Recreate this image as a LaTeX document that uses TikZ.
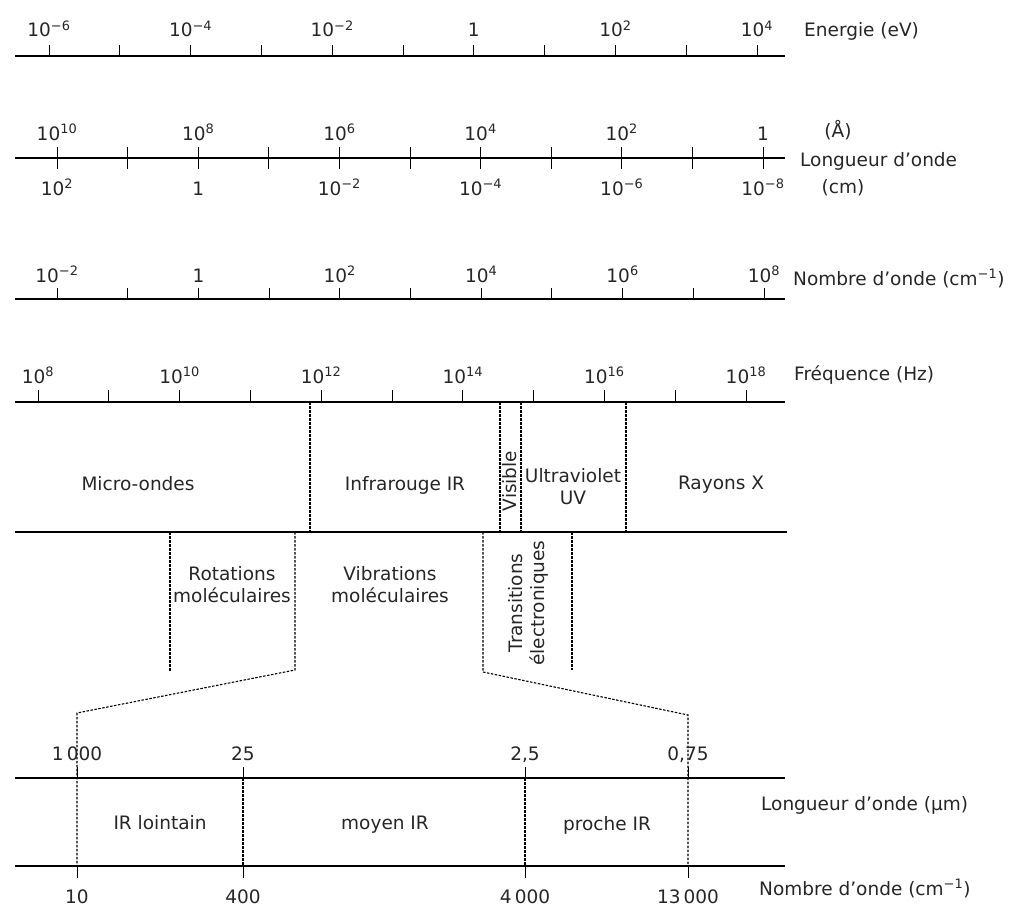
\documentclass[tikz,border=0pt]{standalone}
\usepackage{fontspec}
\setmainfont{DejaVu Sans}
\usetikzlibrary{positioning}
\newcommand{\tenp}[1]{10\textsuperscript{#1}}
\tikzset{
  axis/.style={line width=1.2pt},
  tickmark/.style={line width=1pt},
  sep/.style={line width=1.1pt, dash pattern=on 2.5pt off 1.5pt},
  lbl/.style={font=\fontsize{18.5}{22}\selectfont, inner sep=1pt, text=black!85},
  val/.style={lbl, anchor=base},
  ttl/.style={lbl, anchor=base west},
  zone/.style={lbl, align=center}
}

\begin{document}
\begin{tikzpicture}[x=1pt, y=-1pt]
  \useasboundingbox (0,0) rectangle (1015,907);

  % energie
  \draw[axis] (15,56) -- (785,56);
  \foreach \k in {0,...,10} \draw[tickmark] (49+70.8*\k,56) -- ++(0,-11);
  \foreach \t [count=\k from 0] in {\tenp{−6},\tenp{−4},\tenp{−2},1,\tenp{2},\tenp{4}}
    \node[val] (en\k) at (49+141.6*\k,37) {\t};
  \node[ttl] (energie) at (803,37) {Energie (eV)};

  % longueur d'onde
  \draw[axis] (15,158) -- (785,158);
  \foreach \k in {0,...,10} \draw[tickmark] (57+70.6*\k,147) -- ++(0,22);
  \foreach \t [count=\k from 0] in {\tenp{10},\tenp{8},\tenp{6},\tenp{4},\tenp{2},1}
    \node[val] (la\k) at (57+141.2*\k,140) {\t};
  \foreach \t [count=\k from 0] in {\tenp{2},1,\tenp{−2},\tenp{−4},\tenp{−6},\tenp{−8}}
    \node[val] (lc\k) at (57+141.2*\k,195) {\t};
  \node[val] (ang) at (838,137) {(Å)};
  \node[ttl] (longueur) at (799,166) {Longueur d'onde};
  \node[val] (cm) at (843,193) {(cm)};

  % nombre d'onde
  \draw[axis] (15,299) -- (785,299);
  \foreach \k in {0,...,10} \draw[tickmark] (57+70.7*\k,299) -- ++(0,-11);
  \foreach \t [count=\k from 0] in {\tenp{−2},1,\tenp{2},\tenp{4},\tenp{6},\tenp{8}}
    \node[val] (no\k) at (57+141.4*\k,282) {\t};
  \node[ttl] (nombre) at (792,285) {Nombre d'onde (cm\textsuperscript{−1})};

  % frequence
  \draw[axis] (15,402) -- (785,402);
  \foreach \k in {0,...,10} \draw[tickmark] (38+70.8*\k,402) -- ++(0,-12);
  \foreach \t [count=\k from 0] in {\tenp{8},\tenp{10},\tenp{12},\tenp{14},\tenp{16},\tenp{18}}
    \node[val] (fr\k) at (38+141.6*\k,383) {\t};
  \node[ttl] (frequence) at (793,380) {Fréquence (Hz)};

  % domaines
  \foreach \x in {310,500,521,626} \draw[sep] (\x,402) -- (\x,532);
  \draw[axis] (15,532) -- (787,532);
  \node[zone, anchor=base] (micro) at (138,490) {Micro-ondes};
  \node[zone, anchor=base] (infra) at (405,490) {Infrarouge IR};
  \node[zone, rotate=90] (visible) at (510,481) {Visible};
  \node[zone] (ultra) at (573,487) {Ultraviolet\\UV};
  \node[zone, anchor=base] (rayons) at (721,489) {Rayons X};

  % transitions
  \draw[sep] (170,532) -- (170,672);
  \draw[sep] (572,532) -- (572,670);
  \node[zone] (rot) at (232,585) {Rotations\\moléculaires};
  \node[zone] (vib) at (390,585) {Vibrations\\moléculaires};
  \node[zone, rotate=90] (trans) at (528,603) {Transitions\\électroniques};

  % agrandissement IR
  \coordinate (zl) at (77,713);
  \coordinate (zr) at (688,715);
  \draw[sep] (295,532) -- (295,670) -- (zl) -- (77,866);
  \draw[sep] (483,532) -- (483,672) -- (zr) -- (688,866);
  \draw[axis] (15,778) -- (785,778);
  \draw[axis] (15,866) -- (785,866);
  \foreach \x in {77,243,525,688} {
    \draw[tickmark] (\x,778) -- ++(0,-11);
    \draw[tickmark] (\x,866) -- ++(0,12);
  }
  \foreach \x in {243,525} \draw[sep] (\x,778) -- (\x,866);
  \foreach \x/\t [count=\k] in {77/1\,000, 243/25, 525/{2,5}, 688/{0,75}}
    \node[val] (um\k) at (\x,760) {\t};
  \foreach \x/\t [count=\k] in {77/10, 243/400, 525/4\,000, 688/13\,000}
    \node[val] (cn\k) at (\x,903) {\t};
  \node[zone, anchor=base] (lointain) at (160,829) {IR lointain};
  \node[zone, anchor=base] (moyen) at (385,829) {moyen IR};
  \node[zone, anchor=base] (proche) at (607,830) {proche IR};
  \node[ttl] (lmu) at (760,810) {Longueur d'onde (μm)};
  \node[ttl] (ncm) at (758,895) {Nombre d'onde (cm\textsuperscript{−1})};
\end{tikzpicture}
\end{document}
